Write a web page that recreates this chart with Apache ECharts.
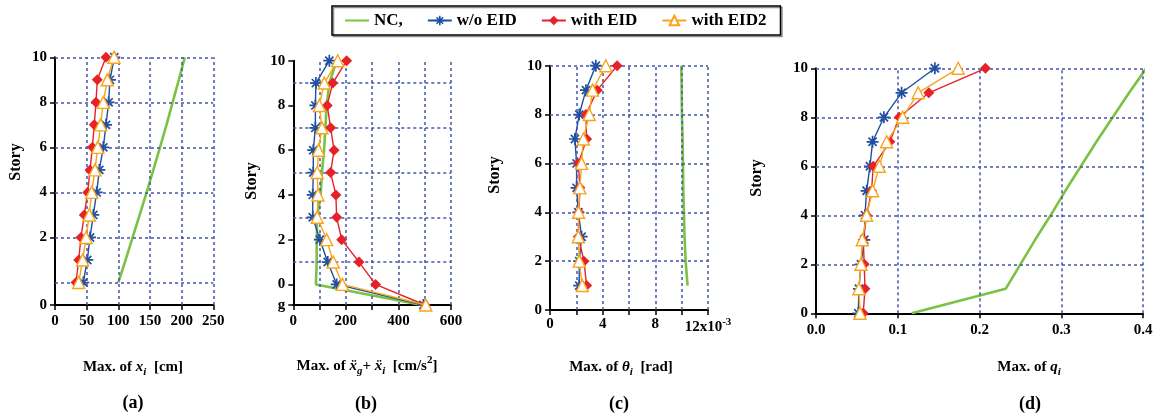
<!DOCTYPE html>
<html><head><meta charset="utf-8">
<script src="https://cdn.jsdelivr.net/npm/echarts@6/dist/echarts.min.js"></script>
<style>html,body{margin:0;padding:0;background:#fff}#c{width:1165px;height:418px}</style>
</head><body><div id="c"></div>
<script>
// ---------- data ----------
const storiesA = [0,1,2,3,4,5,6,7,8,9,10];
const aNC   = [100,111.5,122.6,133.7,144.7,155.3,165.8,176,185.8,195.5,205];
const aWo   = [44.7,51,55.3,60.5,65.8,70,76.3,80.5,84.7,86.8,93.7];
const aEID  = [33.2,37.4,41,46.3,51.6,55.3,59,62,64.7,66.8,80.5];
const aEID2 = [37.4,43.7,49,54.2,57.9,63.2,67.4,72.1,76.3,82.6,93.2];

const levelsB = ['g',0,1,2,3,4,5,6,7,8,9,10];
const bNC   = [489,86,89,89,91,104,109,117,122,127,137,165];
const bWo   = [495,165,131,101,74,74,76,76,84,84,86,137];
const bEID  = [501,313,250,184,165,162,142,155,142,129,150,203];
const bEID2 = [504,187,152,127,91,94,91,96,109,99,118,169];

const storiesC = [1,2,3,4,5,6,7,8,9,10];
const cNC   = [10.45,10.3,10.22,10.17,10.12,10.1,10.07,10.02,10.0,9.97];
const cWo   = [2.22,2.22,2.4,2.15,2.02,2.02,1.89,2.22,2.73,3.48];
const cEID  = [2.78,2.58,2.15,2.2,2.27,2.15,2.78,2.73,3.59,5.1];
const cEID2 = [2.45,2.22,2.15,2.17,2.27,2.4,2.53,2.98,3.23,4.24];

const storiesD = [0,1,2,3,4,5,6,7,8,9,10];
const dNC   = [0.117,0.232,0.25,0.268,0.287,0.305,0.324,0.343,0.363,0.383,0.404];
const dWo   = [0.0517,0.0525,0.055,0.059,0.0599,0.0619,0.066,0.0692,0.0831,0.1047,0.1454];
const dEID  = [0.0578,0.0599,0.059,0.0578,0.0619,0.068,0.07,0.0904,0.1018,0.138,0.2073];
const dEID2 = [0.0538,0.0525,0.055,0.0566,0.0619,0.0692,0.0774,0.0864,0.106,0.125,0.1739];

// grid lines & tick labels
const aGridX = [50,100,150,200,250], aGridY = [0,2,4,6,8,10];
const bGridX = [100,200,300,400,500,600], bGridY = [1,3,5,7,9];
const cGridX = [2,4,6,8,10,12], cGridY = [2,4,6,8,10];
const dGridX = [0.1,0.2,0.3,0.4], dGridY = [2,4,6,8,10];
const aYLabels = [2,4,6,8,10];       // plus "0" at the base
const bYLabels = [0,2,4,6,8,10];     // plus "g" at the base
const names = ['NC,', 'w/o EID', 'with EID', 'with EID2'];

// ---------- layout / style ----------
const A_BASE = -1, B_BASE = -0.92;
const SERIF = '"Liberation Serif","Times New Roman",serif';
const C_NC = '#7cc242', C_WO = '#1f4fa0', C_EID = '#e62228', C_EID2 = '#f7a51e';
const GRIDC = '#4455aa';
const ASTER = 'path://M5,0L5,10M0,5L10,5M1.6,1.6L8.4,8.4M1.6,8.4L8.4,1.6';

const grids = [
  {left:55, top:57.3, width:158.3, height:247.7},
  {left:293.3, top:60.7, width:157.7, height:244.3},
  {left:550, top:65.7, width:158, height:244.3},
  {left:816, top:68.3, width:327, height:245}
];
const axLine = {show:true, onZero:false, lineStyle:{color:'#000', width:2}};
const axTick = {show:true, inside:false, length:5, lineStyle:{color:'#000', width:1.5}};
const lblStyle = {color:'#000', fontFamily:SERIF, fontWeight:'bold', fontSize:15};

const xAxes = [
  {gridIndex:0, type:'value', min:0, max:250, interval:50,
   axisLabel:Object.assign({margin:9}, lblStyle)},
  {gridIndex:1, type:'value', min:0, max:600, interval:100,
   axisLabel:Object.assign({margin:9, formatter:v => (v % 200 === 0 ? String(v) : '')}, lblStyle)},
  {gridIndex:2, type:'value', min:0, max:12, interval:2,
   axisLabel:Object.assign({margin:7, formatter:v => (v === 12 ? '{n|12x10}{s|-3}' : (v % 4 === 0 ? String(v) : '')),
     rich:{n:Object.assign({lineHeight:20}, lblStyle), s:Object.assign({}, lblStyle, {fontSize:11, lineHeight:11, verticalAlign:'top'})}}, lblStyle)},
  {gridIndex:3, type:'value', min:0, max:0.4, interval:0.1,
   axisLabel:Object.assign({margin:9, formatter:v => v.toFixed(1)}, lblStyle)}
].map(a => Object.assign(a, {axisLine:axLine, axisTick:axTick, splitLine:{show:false}}));

const yAxes = [
  {gridIndex:0, type:'value', min:A_BASE, max:10,
   axisTick:Object.assign({customValues:[A_BASE].concat(aYLabels)}, axTick),
   axisLabel:Object.assign({margin:8, customValues:[A_BASE].concat(aYLabels), formatter:v => (v === A_BASE ? '0' : String(v))}, lblStyle)},
  {gridIndex:1, type:'value', min:B_BASE, max:10,
   axisTick:Object.assign({customValues:[B_BASE].concat(bYLabels)}, axTick),
   axisLabel:Object.assign({margin:8, customValues:[B_BASE].concat(bYLabels), formatter:v => (v === B_BASE ? 'g' : String(v))}, lblStyle)},
  {gridIndex:2, type:'value', min:0, max:10, interval:2, axisTick:axTick,
   axisLabel:Object.assign({margin:8}, lblStyle)},
  {gridIndex:3, type:'value', min:0, max:10, interval:2, axisTick:axTick,
   axisLabel:Object.assign({margin:8}, lblStyle)}
].map(a => Object.assign(a, {axisLine:axLine, splitLine:{show:false}}));

function gridSeries(i, gx, gy) {
  return {type:'line', xAxisIndex:i, yAxisIndex:i, data:[], silent:true, z:1,
    markLine:{silent:true, symbol:'none', label:{show:false}, animation:false,
      lineStyle:{color:GRIDC, type:[3,3], width:1.5},
      data: gx.map(v => ({xAxis:v})).concat(gy.map(v => ({yAxis:v})))}};
}
function styleFor(k) {
  if (k === 0) return {symbol:'none', lineStyle:{color:C_NC, width:2.6}, itemStyle:{color:C_NC}};
  if (k === 1) return {symbol:ASTER, symbolSize:12, lineStyle:{color:C_WO, width:1.4},
    itemStyle:{color:C_WO, borderColor:C_WO, borderWidth:1.7}};
  if (k === 2) return {symbol:'diamond', symbolSize:11, lineStyle:{color:C_EID, width:1.4},
    itemStyle:{color:C_EID, borderColor:C_EID, borderWidth:0}};
  return {symbol:'triangle', symbolSize:12, lineStyle:{color:C_EID2, width:1.4},
    itemStyle:{color:'#fff', borderColor:C_EID2, borderWidth:1.4}};
}
function mk(i, k, xs, ys) {
  return Object.assign({type:'line', name:names[k], xAxisIndex:i, yAxisIndex:i, z:3+k,
    animation:false, clip:true, showAllSymbol:true,
    data: xs.map((x, j) => [x, ys[j]])}, styleFor(k));
}
const yB = levelsB.map(l => (l === 'g' ? B_BASE : l));

const series = [
  gridSeries(0, aGridX, aGridY), gridSeries(1, bGridX, bGridY),
  gridSeries(2, cGridX, cGridY), gridSeries(3, dGridX, dGridY)
];
[[aNC,aWo,aEID,aEID2], [bNC,bWo,bEID,bEID2], [cNC,cWo,cEID,cEID2], [dNC,dWo,dEID,dEID2]].forEach((set, i) => {
  const ys = [storiesA, yB, storiesC, storiesD][i];
  set.forEach((xs, k) => series.push(mk(i, k, xs, ys)));
});

// texts below / beside the plots
const base = {fontFamily:SERIF, fontWeight:'bold', fontSize:15, lineHeight:22, fill:'#000'};
const rich = {
  n: Object.assign({}, base),
  it: Object.assign({}, base, {fontStyle:'italic'}),
  sub: Object.assign({}, base, {fontStyle:'italic', fontSize:11, lineHeight:12, verticalAlign:'bottom'}),
  sup: Object.assign({}, base, {fontSize:11, lineHeight:12, verticalAlign:'top'})
};
function txt(x, y, text) {
  return {type:'text', x:x, y:y, silent:true,
    style:{text:text, rich:rich, align:'center', verticalAlign:'middle', fontFamily:SERIF, fontWeight:'bold', fontSize:15, fill:'#000'}};
}
function cap(x, y, text) {
  return {type:'text', x:x, y:y, silent:true,
    style:{text:text, align:'center', verticalAlign:'middle', fontFamily:SERIF, fontWeight:'bold', fontSize:18, fill:'#000'}};
}
function storyLbl(x, y) {
  return {type:'text', x:x, y:y, rotation:Math.PI/2, silent:true,
    style:{text:'Story', align:'center', verticalAlign:'middle', fontFamily:SERIF, fontWeight:'bold', fontSize:16, fill:'#000'}};
}
const graphics = [
  storyLbl(16, 162), storyLbl(252, 181), storyLbl(495, 175), storyLbl(757, 178),
  txt(133, 367, '{n|Max. of }{it|x}{sub|i}{n|  [cm]}'),
  txt(367, 366, '{n|Max. of }{it|\u1E8D}{sub|g}{n|+ }{it|\u1E8D}{sub|i}{n|  [cm/s}{sup|2}{n|]}'),
  txt(621, 367, '{n|Max. of }{it|\u03B8}{sub|i}{n|  [rad]}'),
  txt(1029, 367, '{n|Max. of }{it|q}{sub|i}'),
  cap(133, 403, '(a)'), cap(366, 404, '(b)'), cap(619, 404, '(c)'), cap(1030, 404, '(d)')
];

const chart = echarts.init(document.getElementById('c'), null, {renderer:'canvas'});
chart.setOption({
  animation:false,
  backgroundColor:'#fff',
  legend:{
    data:[
      {name:names[0], itemStyle:{color:'rgba(0,0,0,0)', borderWidth:0, opacity:0}},
      {name:names[1], itemStyle:{color:C_WO, borderColor:C_WO, borderWidth:1.6}},
      {name:names[2]},
      {name:names[3]}
    ],
    left:332, top:6, padding:[6,14,6,12], itemGap:24, itemWidth:24, itemHeight:12,
    borderColor:'#000', borderWidth:1.5, borderRadius:0, selectedMode:false,
    shadowColor:'rgba(0,0,0,0.45)', shadowOffsetX:1.5, shadowOffsetY:1.5, shadowBlur:0,
    textStyle:{fontFamily:SERIF, fontWeight:'bold', fontSize:17, color:'#000'}},
  grid:grids, xAxis:xAxes, yAxis:yAxes, series:series, graphic:graphics
});
</script></body></html>
